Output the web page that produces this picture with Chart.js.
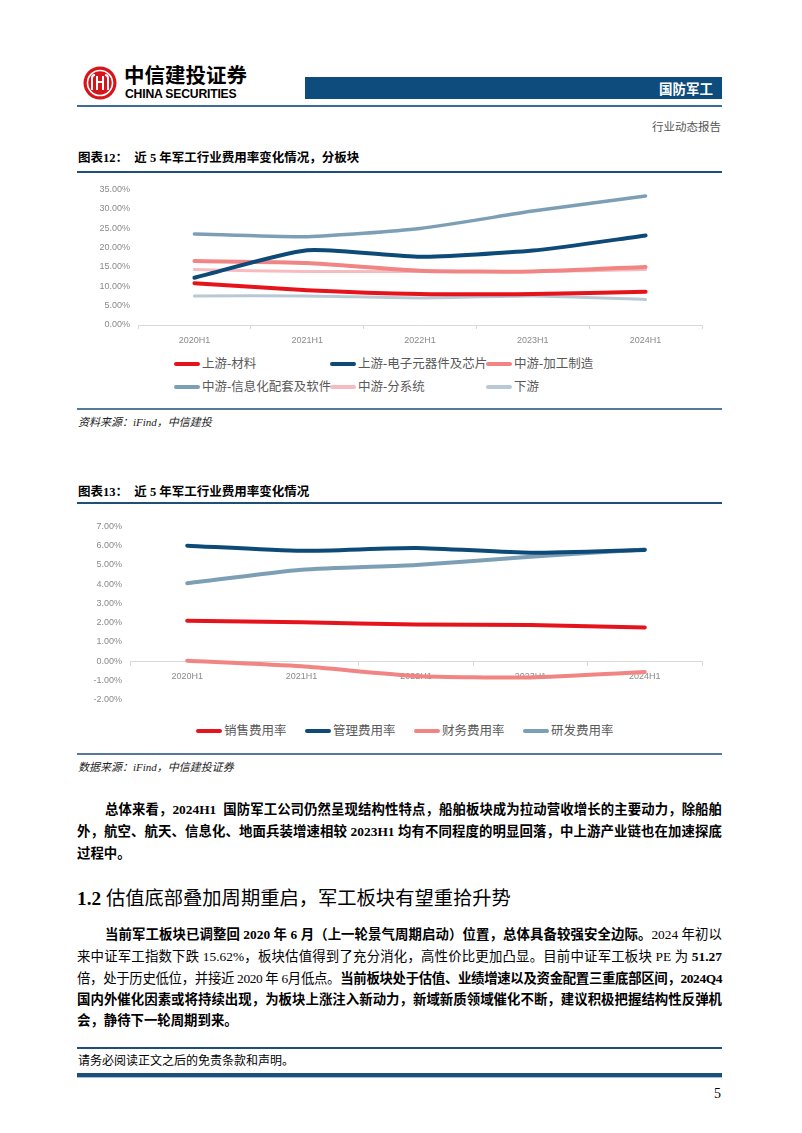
<!DOCTYPE html>
<html>
<head>
<meta charset="utf-8">
<script src="https://cdn.jsdelivr.net/npm/chart.js"></script>
<style>
  body { margin: 0; background: #fff; }
  #page { position: relative; width: 802px; height: 1133px; overflow: hidden;
          font-family: "Liberation Serif", "Noto Sans CJK SC", serif; color: #000; }
  .abs { position: absolute; }
  .rule { position: absolute; left: 77px; width: 645px; }
  .title { position: absolute; left: 78px; font-size: 12.5px; font-weight: bold; line-height: 16px; white-space: pre; }
  .src { position: absolute; left: 78px; font-size: 11px; font-style: italic; line-height: 14px; color: #222; }
  .legend { position: absolute; font-family: "Liberation Serif", "Noto Sans CJK SC", serif; font-size: 12.5px; color: #595959; }
  .legend .item { position: absolute; white-space: nowrap; line-height: 16px; }
  .legend .swatch { display: inline-block; width: 26px; height: 4px; border-radius: 2px; vertical-align: middle; margin-right: 2px; position: relative; top: -1px; }
  .ln { position: absolute; left: 77px; width: 645px; font-size: 13.4px; line-height: 18px; white-space: nowrap;
        text-align: justify; text-align-last: justify; }
  .ln.first { left: 105px; width: 617px; }
  .ln.last { text-align-last: left; }
  .ln b { font-weight: bold; }
  canvas { position: absolute; }
</style>
</head>
<body>
<div id="page">
  <!-- header -->
  <svg class="abs" style="left:83px;top:66px" width="34" height="34" viewBox="0 0 34 34">
    <circle cx="17" cy="17" r="16.5" fill="#D7141A"/>
    <circle cx="17" cy="17" r="12.5" fill="none" stroke="#fff" stroke-width="1.6"/>
    <path d="M9 24 V12 Q9 9 12 9 M14 24 V10 M20 24 V10 M25 24 V12 Q25 9 22 9 M14 16 H20" stroke="#fff" stroke-width="2" fill="none"/>
  </svg>
  <div class="abs" style="left:124px;top:61px;font-family:'Noto Sans CJK SC';font-weight:bold;font-size:20.5px;line-height:26px;">中信建投证券</div>
  <div class="abs" style="left:125px;top:87px;font-family:'Liberation Sans';font-weight:bold;font-size:12.2px;line-height:14px;letter-spacing:-0.2px;">CHINA SECURITIES</div>
  <div class="abs" style="left:305px;top:77px;width:417px;height:22px;background:#0E4C7E;"></div>
  <div class="abs" style="left:600px;top:77px;width:113px;height:22px;line-height:22px;text-align:right;color:#fff;font-family:'Noto Sans CJK SC';font-weight:bold;font-size:13.5px;">国防军工</div>
  <div class="rule" style="top:105px;height:1.5px;background:#3E6D93;"></div>
  <div class="abs" style="left:600px;top:119px;width:121px;text-align:right;font-size:11.5px;line-height:16px;color:#555;">行业动态报告</div>

  <!-- chart 12 -->
  <div class="title" style="top:150px;">图表12：  近 5 年军工行业费用率变化情况，分板块</div>
  <div class="rule" style="top:171px;height:2px;background:#1F4E79;"></div>
  <canvas id="segChart" style="left:77px;top:176px;" width="645" height="175"></canvas>
  <div class="legend" id="segLegend" style="left:0;top:0;"></div>
  <div class="rule" style="top:408px;height:2px;background:#56799A;"></div>
  <div class="src" style="top:415px;">资料来源：iFind，中信建投</div>

  <!-- chart 13 -->
  <div class="title" style="top:484px;">图表13：  近 5 年军工行业费用率变化情况</div>
  <div class="rule" style="top:502px;height:2px;background:#1F4E79;"></div>
  <canvas id="rateChart" style="left:77px;top:513px;" width="645" height="200"></canvas>
  <div class="legend" id="rateLegend" style="left:0;top:0;"></div>
  <div class="rule" style="top:753px;height:2px;background:#56799A;"></div>
  <div class="src" style="top:760px;">数据来源：iFind，中信建投证券</div>

  <!-- body text -->
  <div class="ln first" style="top:801px;"><b>总体来看，2024H1&nbsp; 国防军工公司仍然呈现结构性特点，船舶板块成为拉动营收增长的主要动力，除船舶</b></div>
  <div class="ln" style="top:823px;"><b>外，航空、航天、信息化、地面兵装增速相较 2023H1 均有不同程度的明显回落，中上游产业链也在加速探底</b></div>
  <div class="ln last" style="top:845px;"><b>过程中。</b></div>

  <div class="abs" style="left:77px;top:886px;font-size:19.3px;line-height:26px;white-space:nowrap;"><b>1.2</b> 估值底部叠加周期重启，军工板块有望重拾升势</div>

  <div class="ln first" style="top:926px;"><b>当前军工板块已调整回 2020 年 6 月（上一轮景气周期启动）位置，总体具备较强安全边际。</b>2024 年初以</div>
  <div class="ln" style="top:948px;">来中证军工指数下跌 15.62%，板块估值得到了充分消化，高性价比更加凸显。目前中证军工板块 PE 为 <b>51.27</b></div>
  <div class="ln" style="top:970px;">倍，处于历史低位，并接近 2020 年 6月低点。<b>当前板块处于估值、业绩增速以及资金配置三重底部区间，2024Q4</b></div>
  <div class="ln" style="top:991px;"><b>国内外催化因素或将持续出现，为板块上涨注入新动力，新域新质领域催化不断，建议积极把握结构性反弹机</b></div>
  <div class="ln last" style="top:1012px;"><b>会，静待下一轮周期到来。</b></div>

  <!-- footer -->
  <div class="rule" style="top:1047px;height:1.5px;background:#1F4E79;"></div>
  <div class="abs" style="left:78px;top:1053px;font-size:12px;line-height:16px;">请务必阅读正文之后的免责条款和声明。</div>
  <div class="rule" style="top:1073px;height:3.5px;background:#1F4E79;"></div>
  <div class="rule" style="top:1076.5px;height:1.5px;background:#9CC2E0;"></div>
  <div class="abs" style="left:700px;top:1085px;width:21px;text-align:right;font-size:14px;line-height:18px;">5</div>
</div>

<script>
// categories
const periods = ['2020H1', '2021H1', '2022H1', '2023H1', '2024H1'];

// chart 12: expense ratio by segment (%)
const segNames = ['上游-材料', '上游-电子元器件及芯片', '中游-加工制造', '中游-信息化配套及软件', '中游-分系统', '下游'];
const upMaterial   = [10.8, 9.0, 8.0, 8.0, 8.6];
const upElectronic = [12.2, 19.3, 17.6, 19.2, 23.1];
const midMfg       = [16.5, 16.0, 14.0, 13.8, 15.0];
const midInfo      = [23.5, 22.8, 24.9, 29.4, 33.3];
const midSubsys    = [14.3, 13.8, 13.8, 13.8, 14.3];
const downstream   = [7.5, 7.5, 7.0, 7.5, 6.6];
const segTicks = { min: 0, max: 35, step: 5 };

// chart 13: industry expense ratios (%)
const rateNames = ['销售费用率', '管理费用率', '财务费用率', '研发费用率'];
const salesRate = [2.1, 2.02, 1.9, 1.87, 1.75];
const mgmtRate  = [6.0, 5.73, 5.88, 5.63, 5.78];
const finRate   = [0.02, -0.27, -0.77, -0.85, -0.57];
const rdRate    = [4.05, 4.75, 5.0, 5.42, 5.8];
const rateTicks = { min: -2, max: 7, step: 1 };

const RED = '#E5141C', NAVY = '#0D4A78', SALMON = '#F08584', STEEL = '#7D9FB5', PINK = '#F7BCC0', PALE = '#B8C9D5';

function lineSet(label, data, color, width) {
  return {
    label: label, data: data, borderColor: color, backgroundColor: color,
    borderWidth: width, pointRadius: 0, tension: 0.2,
    borderCapStyle: 'round', borderJoinStyle: 'round', fill: false
  };
}

const tickFont = { family: "'Liberation Sans', 'Noto Sans'", size: 9 };
const tickColor = '#8A8A8A';

function baseOptions(yMin, yMax, yStep, yWidth, xAtZero) {
  const x = {
    type: 'category',
    offset: true,
    grid: { display: true, drawOnChartArea: false, drawTicks: true, tickLength: 4, color: '#D9D9D9', offset: true },
    border: { display: true, color: '#D9D9D9', width: 1 },
    ticks: { font: tickFont, color: tickColor, padding: 6, maxRotation: 0, autoSkip: false }
  };
  if (xAtZero) x.position = { y: 0 };
  else x.afterFit = function(scale) { scale.height = 26; };
  return {
    responsive: false,
    animation: false,
    layout: { padding: { top: 10, right: 20, bottom: xAtZero ? 8 : 0, left: 0 } },
    plugins: { legend: { display: false }, tooltip: { enabled: false } },
    scales: {
      x: x,
      y: {
        min: yMin, max: yMax,
        grid: { display: false, drawTicks: false },
        border: { display: false },
        ticks: {
          stepSize: yStep, font: tickFont, color: tickColor, padding: 8,
          callback: function(v) { return v.toFixed(2) + '%'; }
        },
        afterFit: function(scale) { scale.width = yWidth; }
      }
    }
  };
}

function buildLegend(el, chart, cols, rowTops) {
  chart.data.datasets.forEach(function(ds, i) {
    const item = document.createElement('div');
    item.className = 'item';
    item.style.left = cols[i] + 'px';
    item.style.top = rowTops[i] + 'px';
    const sw = document.createElement('span');
    sw.className = 'swatch';
    sw.style.background = ds.borderColor;
    item.appendChild(sw);
    item.appendChild(document.createTextNode(ds.label));
    el.appendChild(item);
  });
}

const segChart = new Chart(document.getElementById('segChart'), {
  type: 'line',
  data: {
    labels: periods,
    datasets: [
      lineSet(segNames[0], upMaterial, RED, 4),
      lineSet(segNames[1], upElectronic, NAVY, 4),
      lineSet(segNames[2], midMfg, SALMON, 4),
      lineSet(segNames[3], midInfo, STEEL, 3.5),
      lineSet(segNames[4], midSubsys, PINK, 3),
      lineSet(segNames[5], downstream, PALE, 3)
    ]
  },
  options: baseOptions(segTicks.min, segTicks.max, segTicks.step, 61, false)
});

const rateChart = new Chart(document.getElementById('rateChart'), {
  type: 'line',
  data: {
    labels: periods,
    datasets: [
      lineSet(rateNames[0], salesRate, RED, 4),
      lineSet(rateNames[1], mgmtRate, NAVY, 4),
      lineSet(rateNames[2], finRate, SALMON, 4),
      lineSet(rateNames[3], rdRate, STEEL, 4)
    ]
  },
  options: baseOptions(rateTicks.min, rateTicks.max, rateTicks.step, 53, true)
});

buildLegend(document.getElementById('segLegend'), segChart,
  [174, 330, 486, 174, 330, 486], [356, 356, 356, 379, 379, 379]);
buildLegend(document.getElementById('rateLegend'), rateChart,
  [196, 305, 414, 523], [723, 723, 723, 723]);

// squeeze any body line that is a little too long for its box
document.querySelectorAll('.ln').forEach(function(el) {
  let ls = 0;
  while (el.scrollWidth > el.clientWidth + 0.5 && ls > -1.5) {
    ls -= 0.1;
    el.style.letterSpacing = ls.toFixed(2) + 'px';
  }
});
</script>
</body>
</html>
